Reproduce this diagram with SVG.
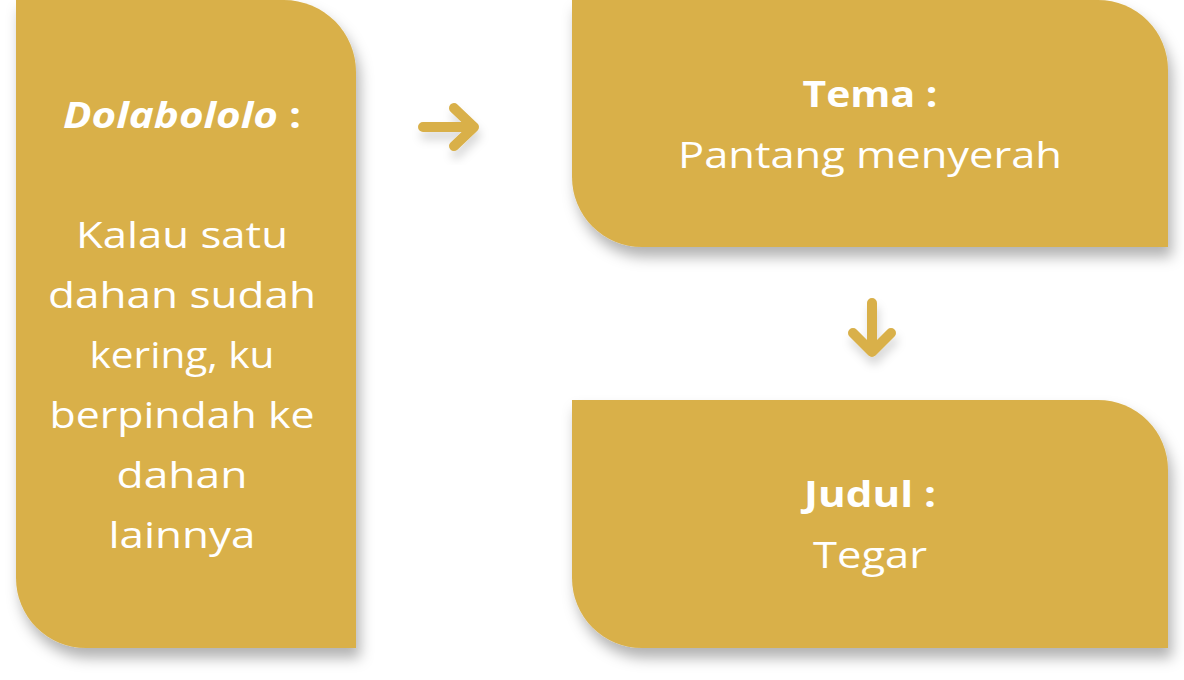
<svg xmlns="http://www.w3.org/2000/svg" width="1184" height="680" viewBox="0 0 1184 680">
  <defs>
    <filter id="sh" x="-20%" y="-20%" width="140%" height="140%">
      <feDropShadow dx="4" dy="10" stdDeviation="7" flood-color="#000" flood-opacity="0.3"/>
    </filter>
    <filter id="sha" x="-50%" y="-50%" width="200%" height="200%">
      <feDropShadow dx="2" dy="8" stdDeviation="5" flood-color="#000" flood-opacity="0.15"/>
    </filter>
  </defs>
  <style>
    .box { fill: #D9B04A; filter: url(#sh); }
    .t { font-family: "Open Sans", "Liberation Sans", sans-serif; fill: #ffffff; text-anchor: middle; font-size: 36px; }
    .b { font-weight: 700; }
    .arr { fill: none; stroke: #D9B04A; stroke-width: 10; stroke-linecap: round; stroke-linejoin: round; filter: url(#sha); }
  </style>
  <rect width="1184" height="680" fill="#ffffff"/>
  <g id="node-dolabololo">
    <path class="box" d="M16 0 H284 A72 72 0 0 1 356 72 V648 H86 A70 70 0 0 1 16 578 Z"/>
    <text class="t b" x="182" y="128" textLength="238" lengthAdjust="spacingAndGlyphs"><tspan font-style="italic">Dolabololo</tspan> :</text>
    <text class="t" x="182" y="248" textLength="212" lengthAdjust="spacingAndGlyphs">Kalau satu</text>
    <text class="t" x="182" y="308" textLength="268" lengthAdjust="spacingAndGlyphs">dahan sudah</text>
    <text class="t" x="182" y="368" textLength="185" lengthAdjust="spacingAndGlyphs">kering, ku</text>
    <text class="t" x="182" y="428" textLength="265" lengthAdjust="spacingAndGlyphs">berpindah ke</text>
    <text class="t" x="182" y="488" textLength="131" lengthAdjust="spacingAndGlyphs">dahan</text>
    <text class="t" x="182" y="548" textLength="147" lengthAdjust="spacingAndGlyphs">lainnya</text>
  </g>
  <g id="node-tema">
    <path class="box" d="M572 0 H1098 A70 70 0 0 1 1168 70 V247 H642 A70 70 0 0 1 572 177 Z"/>
    <text class="t b" x="870" y="107" textLength="135" lengthAdjust="spacingAndGlyphs">Tema :</text>
    <text class="t" x="870" y="168" textLength="384" lengthAdjust="spacingAndGlyphs">Pantang menyerah</text>
  </g>
  <g id="node-judul">
    <path class="box" d="M572 400 H1098 A70 70 0 0 1 1168 470 V648 H642 A70 70 0 0 1 572 578 Z"/>
    <text class="t b" x="870" y="507" textLength="132" lengthAdjust="spacingAndGlyphs">Judul :</text>
    <text class="t" x="870" y="568" textLength="114" lengthAdjust="spacingAndGlyphs">Tegar</text>
  </g>
  <g id="connectors">
    <path class="arr" d="M423 127 H474 M454 108 L474 127 L454 146"/>
    <path class="arr" d="M872 303 V352 M853 333 L872 352 L891 333"/>
  </g>
</svg>
